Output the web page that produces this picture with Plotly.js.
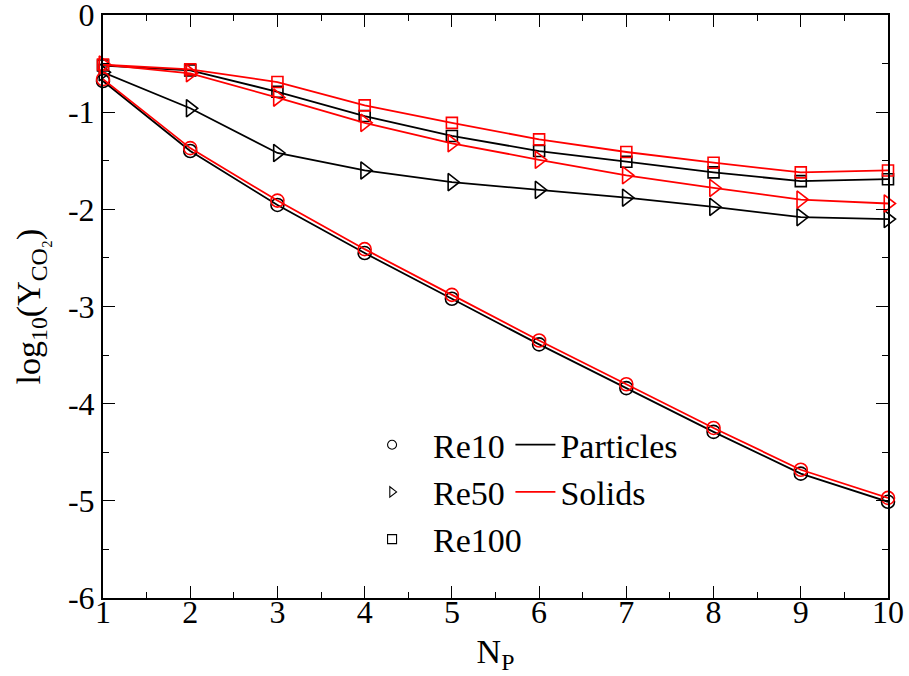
<!DOCTYPE html>
<html>
<head>
<meta charset="utf-8">
<script src="https://cdn.plot.ly/plotly-3.0.1.min.js"></script>
<style>body{margin:0;background:#fff;} #chart{width:909px;height:676px;}</style>
</head>
<body>
<div id="chart"></div>
<script>
// Data
const NP = [1, 2, 3, 4, 5, 6, 7, 8, 9, 10];
const re10Particles  = [-0.68, -1.40, -1.955, -2.45, -2.92, -3.39, -3.84, -4.29, -4.72, -5.01];
const re10Solids     = [-0.66, -1.37, -1.91, -2.41, -2.88, -3.35, -3.80, -4.25, -4.68, -4.97];
const re50Particles  = [-0.59, -0.96, -1.42, -1.60, -1.72, -1.80, -1.88, -1.975, -2.08, -2.10];
const re50Solids     = [-0.51, -0.60, -0.85, -1.11, -1.32, -1.49, -1.65, -1.78, -1.90, -1.94];
const re100Particles = [-0.52, -0.57, -0.79, -1.04, -1.245, -1.40, -1.51, -1.62, -1.71, -1.69];
const re100Solids    = [-0.51, -0.56, -0.69, -0.93, -1.11, -1.28, -1.41, -1.52, -1.62, -1.60];

const xTickVals = [1, 2, 3, 4, 5, 6, 7, 8, 9, 10];
const xTickText = ['1', '2', '3', '4', '5', '6', '7', '8', '9', '10'];
const yTickVals = [0, -1, -2, -3, -4, -5, -6];
const yTickText = ['0', '-1', '-2', '-3', '-4', '-5', '-6'];

const reLabels = ['Re10', 'Re50', 'Re100'];
const typeLabels = ['Particles', 'Solids'];

const FONT = '"Liberation Serif", "Times New Roman", serif';
const BLACK = '#000000';
const RED = '#ff0000';

function dataTrace(y, color, symbol, size) {
  return {
    x: NP, y: y, type: 'scatter', mode: 'lines+markers',
    line: {color: color, width: 1.8},
    marker: {symbol: symbol, size: size, color: color, line: {color: color, width: 1.6}},
    showlegend: false, hoverinfo: 'skip', cliponaxis: false
  };
}

const traces = [
  dataTrace(re10Particles, BLACK, 'circle-open', 13),
  dataTrace(re50Particles, BLACK, 'triangle-right-open', 15),
  dataTrace(re100Particles, BLACK, 'square-open', 11),
  dataTrace(re10Solids, RED, 'circle-open', 13),
  dataTrace(re50Solids, RED, 'triangle-right-open', 15),
  dataTrace(re100Solids, RED, 'square-open', 11),
];

// legend entries (symbols only)
const legendSymbols = ['circle-open', 'triangle-right-open', 'square-open'];
reLabels.forEach((lab, i) => {
  traces.push({
    x: [null], y: [null], type: 'scatter', mode: 'markers', name: lab,
    marker: {symbol: legendSymbols[i], size: 9, color: BLACK, line: {color: BLACK, width: 1.1}},
    legend: 'legend', showlegend: true
  });
});
const typeColors = [BLACK, RED];
typeLabels.forEach((lab, i) => {
  traces.push({
    x: [null], y: [null], type: 'scatter', mode: 'lines', name: lab,
    line: {color: typeColors[i], width: 1.8},
    legend: 'legend2', showlegend: true
  });
});

const axisCommon = {
  showgrid: false, zeroline: false,
  showline: true, linecolor: BLACK, linewidth: 2, mirror: 'allticks',
  ticks: 'inside', ticklen: 12, tickwidth: 1.2, tickcolor: BLACK,
  ticklabeloverflow: 'allow',
  tickfont: {family: FONT, size: 32, color: BLACK},
};

const layout = {
  width: 909, height: 676,
  margin: {l: 103, r: 21, t: 15, b: 78},
  paper_bgcolor: '#ffffff', plot_bgcolor: '#ffffff',
  font: {family: FONT, color: BLACK},
  xaxis: Object.assign({}, axisCommon, {
    range: [1, 10], tickvals: xTickVals, ticktext: xTickText,
    ticklabelposition: 'outside', ticklabelstandoff: -15,
    minor: {dtick: 0.5, tick0: 1, ticklen: 6, ticks: 'inside', tickcolor: BLACK, tickwidth: 1},
    title: {text: 'N<sub>P</sub>', font: {family: FONT, size: 34, color: BLACK}, standoff: 10}
  }),
  yaxis: Object.assign({}, axisCommon, {
    range: [-6, 0], tickvals: yTickVals, ticktext: yTickText,
    minor: {dtick: 0.5, tick0: 0, ticklen: 6, ticks: 'inside', tickcolor: BLACK, tickwidth: 1},
    title: {text: 'log<sub>10</sub>(Y<sub>CO₂</sub>)', font: {family: FONT, size: 34, color: BLACK}, standoff: 17}
  }),
  legend: {
    x: 0.316, y: 0.312, xanchor: 'left', yanchor: 'top',
    bgcolor: 'rgba(0,0,0,0)', borderwidth: 0, itemwidth: 72,
    font: {family: FONT, size: 34, color: BLACK}
  },
  legend2: {
    x: 0.519, y: 0.312, xanchor: 'left', yanchor: 'top',
    bgcolor: 'rgba(0,0,0,0)', borderwidth: 0, itemwidth: 40,
    font: {family: FONT, size: 34, color: BLACK}
  },
  showlegend: true
};

Plotly.newPlot('chart', traces, layout, {displayModeBar: false, staticPlot: true});
</script>
</body>
</html>
